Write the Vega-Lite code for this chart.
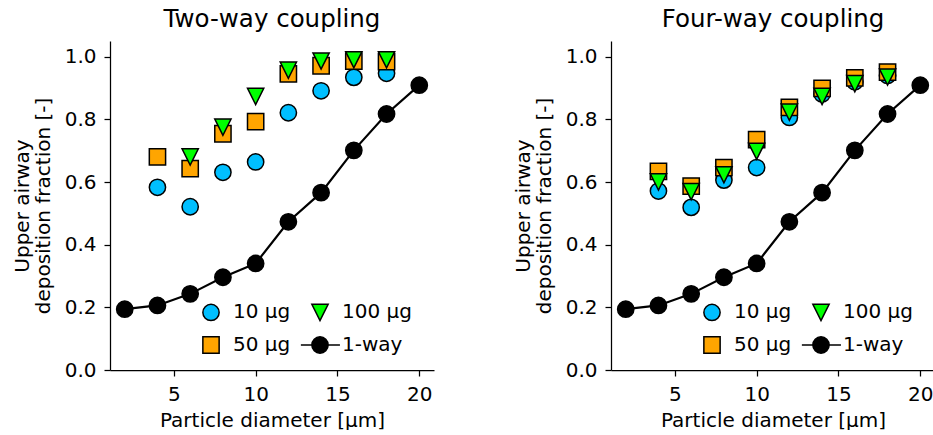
{
  "$schema": "https://vega.github.io/schema/vega-lite/v6.json",
  "background": "white",
  "padding": {"left": 12, "top": 6, "right": 0, "bottom": 0},
  "bounds": "flush",
  "spacing": 177,
  "config": {
    "font": "DejaVu Sans",
    "view": {"stroke": null},
    "axis": {
      "grid": false,
      "domainColor": "black",
      "domainWidth": 1.25,
      "tickColor": "black",
      "tickWidth": 1.25,
      "tickSize": 6,
      "labelFont": "DejaVu Sans",
      "labelFontSize": 20,
      "labelColor": "black",
      "labelPadding": 8,
      "titleFont": "DejaVu Sans",
      "titleFontSize": 20,
      "titleFontWeight": "normal",
      "titleColor": "black",
      "titleLineHeight": 21
    },
    "axisX": {"titlePadding": 6},
    "axisY": {"titlePadding": 11},
    "title": {"font": "DejaVu Sans", "fontSize": 24.5, "fontWeight": "normal", "color": "black", "anchor": "middle", "offset": 9},
    "legend": {
      "orient": "none", "legendX": 91, "legendY": 261, "columns": 2, "title": null, "padding": 0,
      "labelFont": "DejaVu Sans", "labelFontSize": 20, "labelColor": "black",
      "symbolSize": 265, "symbolStrokeColor": "black", "symbolStrokeWidth": 1.5, "symbolOpacity": 1,
      "labelOffset": 12, "columnPadding": 6, "rowPadding": 9
    }
  },
  "datasets": {
    "pts": [
      {"panel": "two", "series": "10 µg", "d": 4, "frac": 0.583},
      {"panel": "two", "series": "10 µg", "d": 6, "frac": 0.521},
      {"panel": "two", "series": "10 µg", "d": 8, "frac": 0.631},
      {"panel": "two", "series": "10 µg", "d": 10, "frac": 0.664},
      {"panel": "two", "series": "10 µg", "d": 12, "frac": 0.821},
      {"panel": "two", "series": "10 µg", "d": 14, "frac": 0.891},
      {"panel": "two", "series": "10 µg", "d": 16, "frac": 0.934},
      {"panel": "two", "series": "10 µg", "d": 18, "frac": 0.947},
      {"panel": "two", "series": "50 µg", "d": 4, "frac": 0.680},
      {"panel": "two", "series": "50 µg", "d": 6, "frac": 0.643},
      {"panel": "two", "series": "50 µg", "d": 8, "frac": 0.754},
      {"panel": "two", "series": "50 µg", "d": 10, "frac": 0.793},
      {"panel": "two", "series": "50 µg", "d": 12, "frac": 0.945},
      {"panel": "two", "series": "50 µg", "d": 14, "frac": 0.971},
      {"panel": "two", "series": "50 µg", "d": 16, "frac": 0.986},
      {"panel": "two", "series": "50 µg", "d": 18, "frac": 0.984},
      {"panel": "two", "series": "100 µg", "d": 6, "frac": 0.680},
      {"panel": "two", "series": "100 µg", "d": 8, "frac": 0.775},
      {"panel": "two", "series": "100 µg", "d": 10, "frac": 0.873},
      {"panel": "two", "series": "100 µg", "d": 12, "frac": 0.957},
      {"panel": "two", "series": "100 µg", "d": 14, "frac": 0.986},
      {"panel": "two", "series": "100 µg", "d": 16, "frac": 0.990},
      {"panel": "two", "series": "100 µg", "d": 18, "frac": 0.990},
      {"panel": "two", "series": "1-way", "d": 2, "frac": 0.194},
      {"panel": "two", "series": "1-way", "d": 4, "frac": 0.206},
      {"panel": "two", "series": "1-way", "d": 6, "frac": 0.243},
      {"panel": "two", "series": "1-way", "d": 8, "frac": 0.296},
      {"panel": "two", "series": "1-way", "d": 10, "frac": 0.340},
      {"panel": "two", "series": "1-way", "d": 12, "frac": 0.473},
      {"panel": "two", "series": "1-way", "d": 14, "frac": 0.566},
      {"panel": "two", "series": "1-way", "d": 16, "frac": 0.701},
      {"panel": "two", "series": "1-way", "d": 18, "frac": 0.817},
      {"panel": "two", "series": "1-way", "d": 20, "frac": 0.909},
      {"panel": "four", "series": "10 µg", "d": 4, "frac": 0.571},
      {"panel": "four", "series": "10 µg", "d": 6, "frac": 0.519},
      {"panel": "four", "series": "10 µg", "d": 8, "frac": 0.606},
      {"panel": "four", "series": "10 µg", "d": 10, "frac": 0.646},
      {"panel": "four", "series": "10 µg", "d": 12, "frac": 0.806},
      {"panel": "four", "series": "10 µg", "d": 14, "frac": 0.881},
      {"panel": "four", "series": "10 µg", "d": 16, "frac": 0.920},
      {"panel": "four", "series": "10 µg", "d": 18, "frac": 0.940},
      {"panel": "four", "series": "50 µg", "d": 4, "frac": 0.634},
      {"panel": "four", "series": "50 µg", "d": 6, "frac": 0.587},
      {"panel": "four", "series": "50 µg", "d": 8, "frac": 0.646},
      {"panel": "four", "series": "50 µg", "d": 10, "frac": 0.735},
      {"panel": "four", "series": "50 µg", "d": 12, "frac": 0.838},
      {"panel": "four", "series": "50 µg", "d": 14, "frac": 0.899},
      {"panel": "four", "series": "50 µg", "d": 16, "frac": 0.932},
      {"panel": "four", "series": "50 µg", "d": 18, "frac": 0.951},
      {"panel": "four", "series": "100 µg", "d": 4, "frac": 0.600},
      {"panel": "four", "series": "100 µg", "d": 6, "frac": 0.569},
      {"panel": "four", "series": "100 µg", "d": 8, "frac": 0.623},
      {"panel": "four", "series": "100 µg", "d": 10, "frac": 0.698},
      {"panel": "four", "series": "100 µg", "d": 12, "frac": 0.823},
      {"panel": "four", "series": "100 µg", "d": 14, "frac": 0.873},
      {"panel": "four", "series": "100 µg", "d": 16, "frac": 0.914},
      {"panel": "four", "series": "100 µg", "d": 18, "frac": 0.935},
      {"panel": "four", "series": "1-way", "d": 2, "frac": 0.194},
      {"panel": "four", "series": "1-way", "d": 4, "frac": 0.206},
      {"panel": "four", "series": "1-way", "d": 6, "frac": 0.243},
      {"panel": "four", "series": "1-way", "d": 8, "frac": 0.296},
      {"panel": "four", "series": "1-way", "d": 10, "frac": 0.340},
      {"panel": "four", "series": "1-way", "d": 12, "frac": 0.473},
      {"panel": "four", "series": "1-way", "d": 14, "frac": 0.566},
      {"panel": "four", "series": "1-way", "d": 16, "frac": 0.701},
      {"panel": "four", "series": "1-way", "d": 18, "frac": 0.817},
      {"panel": "four", "series": "1-way", "d": 20, "frac": 0.909}
    ]
  },
  "hconcat": [
    {
      "title": "Two-way coupling",
      "width": 324,
      "height": 329,
      "data": {"name": "pts"},
      "transform": [{"filter": "datum.panel === 'two'"}],
      "encoding": {
        "x": {"field": "d", "type": "quantitative", "scale": {"domain": [1.1, 20.9], "nice": false, "zero": false}, "axis": {"values": [5, 10, 15, 20], "title": "Particle diameter [µm]"}},
        "y": {"field": "frac", "type": "quantitative", "scale": {"domain": [0, 1.05], "nice": false}, "axis": {"values": [0, 0.2, 0.4, 0.6, 0.8, 1.0], "format": ".1f", "title": ["Upper airway", "deposition fraction [-]"]}}
      },
      "layer": [
        {"transform": [{"filter": "datum.series === '1-way'"}], "mark": {"type": "line", "color": "black", "strokeWidth": 2.2}, "encoding": {}},
        {"transform": [{"filter": "datum.series === '1-way'"}], "mark": {"type": "point", "shape": "circle", "filled": true, "fill": "black", "stroke": "black", "strokeWidth": 1.5, "size": 265, "opacity": 1}, "encoding": {}},
        {
          "transform": [{"filter": "datum.series !== '1-way'"}],
          "mark": {"type": "point", "filled": true, "stroke": "black", "strokeWidth": 1.5, "size": 265, "opacity": 1},
          "encoding": {
            "fill": {"field": "series", "type": "nominal", "sort": null, "scale": {"domain": ["10 µg", "50 µg", "100 µg", "1-way"], "range": ["#00BFFF", "#FFA500", "#00FF00", "black"]},
              "legend": {"encode": {"symbols": {"update": {"stroke": {"value": "black"}, "strokeWidth": {"value": 1.5}}}}}},
            "shape": {"field": "series", "type": "nominal", "sort": null, "scale": {"domain": ["10 µg", "50 µg", "100 µg", "1-way"], "range": ["circle", "square", "M-1,-1L1,-1L0,1Z", "M-2.35,0L-1,0M1,0L2.45,0M-1,0A1,1 0 1,1 1,0A1,1 0 1,1 -1,0Z"]},
              "legend": {"encode": {"symbols": {"update": {"stroke": {"value": "black"}, "strokeWidth": {"value": 1.5}}}}}}
          }
        }
      ]
    },
    {
      "title": "Four-way coupling",
      "width": 324,
      "height": 329,
      "data": {"name": "pts"},
      "transform": [{"filter": "datum.panel === 'four'"}],
      "encoding": {
        "x": {"field": "d", "type": "quantitative", "scale": {"domain": [1.1, 20.9], "nice": false, "zero": false}, "axis": {"values": [5, 10, 15, 20], "title": "Particle diameter [µm]"}},
        "y": {"field": "frac", "type": "quantitative", "scale": {"domain": [0, 1.05], "nice": false}, "axis": {"values": [0, 0.2, 0.4, 0.6, 0.8, 1.0], "format": ".1f", "title": ["Upper airway", "deposition fraction [-]"]}}
      },
      "layer": [
        {"transform": [{"filter": "datum.series === '1-way'"}], "mark": {"type": "line", "color": "black", "strokeWidth": 2.2}, "encoding": {}},
        {"transform": [{"filter": "datum.series === '1-way'"}], "mark": {"type": "point", "shape": "circle", "filled": true, "fill": "black", "stroke": "black", "strokeWidth": 1.5, "size": 265, "opacity": 1}, "encoding": {}},
        {
          "transform": [{"filter": "datum.series !== '1-way'"}],
          "mark": {"type": "point", "filled": true, "stroke": "black", "strokeWidth": 1.5, "size": 265, "opacity": 1},
          "encoding": {
            "fill": {"field": "series", "type": "nominal", "sort": null, "scale": {"domain": ["10 µg", "50 µg", "100 µg", "1-way"], "range": ["#00BFFF", "#FFA500", "#00FF00", "black"]},
              "legend": {"encode": {"symbols": {"update": {"stroke": {"value": "black"}, "strokeWidth": {"value": 1.5}}}}}},
            "shape": {"field": "series", "type": "nominal", "sort": null, "scale": {"domain": ["10 µg", "50 µg", "100 µg", "1-way"], "range": ["circle", "square", "M-1,-1L1,-1L0,1Z", "M-2.35,0L-1,0M1,0L2.45,0M-1,0A1,1 0 1,1 1,0A1,1 0 1,1 -1,0Z"]},
              "legend": {"encode": {"symbols": {"update": {"stroke": {"value": "black"}, "strokeWidth": {"value": 1.5}}}}}}
          }
        }
      ]
    }
  ],
  "resolve": {
    "scale": {"fill": "independent", "shape": "independent"},
    "legend": {"fill": "independent", "shape": "independent"}
  }
}
